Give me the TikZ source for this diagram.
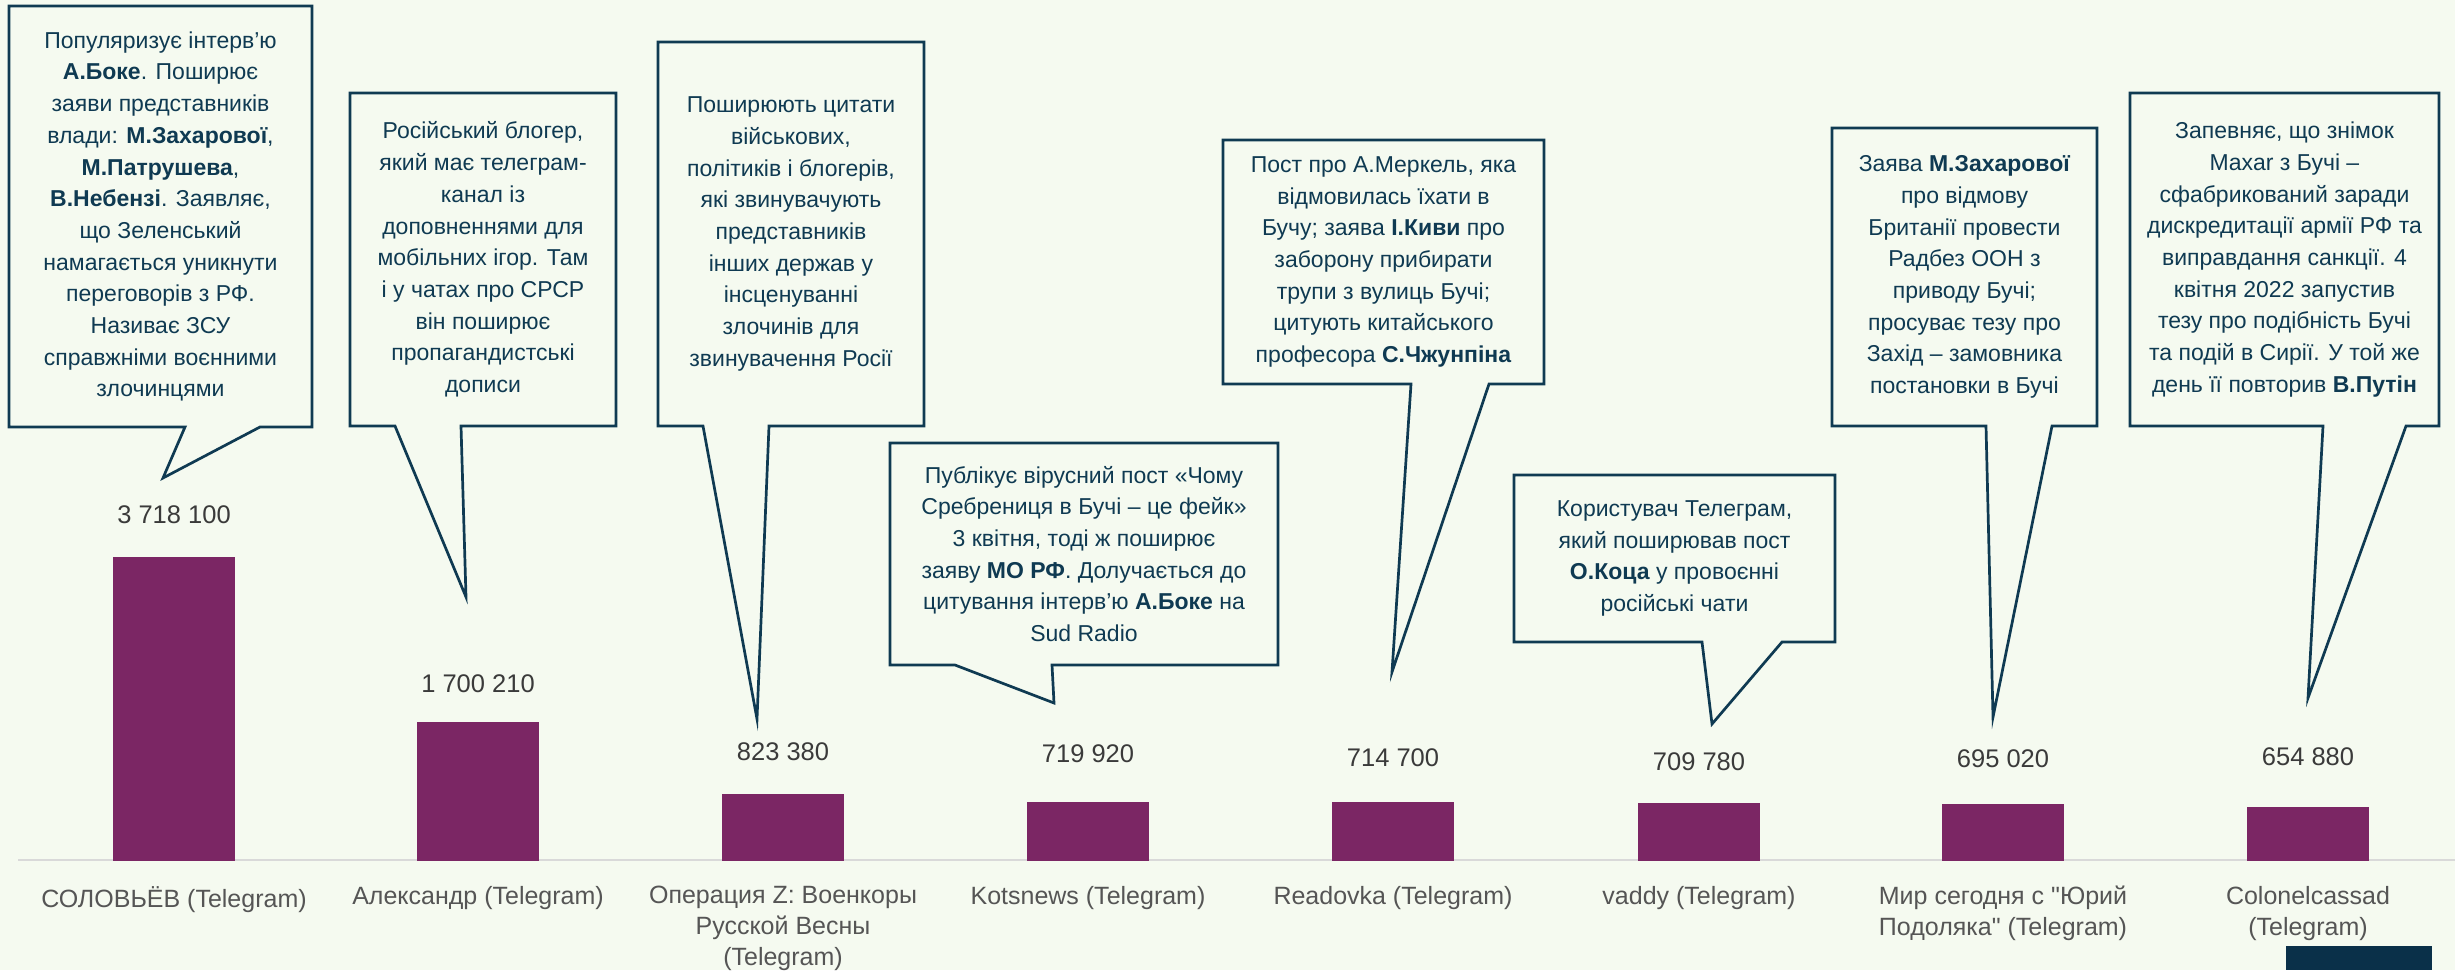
\documentclass[tikz,border=0pt]{standalone}
\usepackage{fontspec}
\setmainfont{Liberation Sans}
\newfontfamily\catfont{Liberation Sans}[Ligatures=TeXOff]
\definecolor{bg}{HTML}{F5FAF0}
\definecolor{navy}{HTML}{0F3A52}
\definecolor{barc}{HTML}{7B2664}
\definecolor{numc}{HTML}{3A3A3A}
\definecolor{catc}{HTML}{555555}
\definecolor{axisc}{HTML}{D9D9D9}
\definecolor{cornerc}{HTML}{0A3049}
\tikzset{
  cbox/.style={draw=navy, line width=2.7pt, fill=bg, line join=miter},
  ctext/.style={text=navy, align=center, font=\fontsize{23}{31.7}\selectfont, inner sep=0pt},
  barbox/.style={fill=barc, draw=none, minimum width=122pt, inner sep=0pt, anchor=south},
  numlbl/.style={text=numc, font=\fontsize{25.5}{30}\selectfont, inner sep=0pt},
  catlbl/.style={text=catc, font=\catfont\fontsize{25}{31}\selectfont, align=center, inner sep=0pt, anchor=north},
}
\newcommand\mycallout[9]{%
  \coordinate (#1-tip) at #8;
  \draw[cbox] (#2,#3) -- (#4,#3) -- (#4,#5) -- (#7,#5) -- (#1-tip) -- (#6,#5) -- (#2,#5) -- cycle;
  \node[ctext] (#1) at ({(#2+#4)/2},{(#3+#5)/2}) {#9};
}
\begin{document}
\begin{tikzpicture}[x=1pt,y=-1pt]
\useasboundingbox (0,0) rectangle (2455,970);
\fill[bg] (0,0) rectangle (2455,970);
% axis
\draw[axisc, line width=2.5pt] (18,860) -- (2455,860);
% bars
\node[barbox, minimum height=304pt]  (b1) at (174,861) {};
\node[barbox, minimum height=139pt]  (b2) at (478,861) {};
\node[barbox, minimum height=67.3pt] (b3) at (783,861) {};
\node[barbox, minimum height=58.9pt] (b4) at (1088,861) {};
\node[barbox, minimum height=58.4pt] (b5) at (1393,861) {};
\node[barbox, minimum height=58pt]   (b6) at (1699,861) {};
\node[barbox, minimum height=56.8pt] (b7) at (2003,861) {};
\node[barbox, minimum height=53.5pt] (b8) at (2308,861) {};
% values
\node[numlbl] (v1) at ([yshift=42pt]b1.north) {3 718 100};
\node[numlbl] (v2) at ([yshift=38pt]b2.north) {1 700 210};
\node[numlbl] (v3) at ([yshift=42pt]b3.north) {823 380};
\node[numlbl] (v4) at ([yshift=48pt]b4.north) {719 920};
\node[numlbl] (v5) at ([yshift=44pt]b5.north) {714 700};
\node[numlbl] (v6) at ([yshift=41pt]b6.north) {709 780};
\node[numlbl] (v7) at ([yshift=45pt]b7.north) {695 020};
\node[numlbl] (v8) at ([yshift=50pt]b8.north) {654 880};
% categories
\node[catlbl] (c1) at (174,886) {СОЛОВЬЁВ (Telegram)};
\node[catlbl] (c2) at (478,886) {Александр (Telegram)};
\node[catlbl] (c3) at (783,886) {Операция Z: Военкоры\\Русской Весны\\(Telegram)};
\node[catlbl] (c4) at (1088,886) {Kotsnews (Telegram)};
\node[catlbl] (c5) at (1393,886) {Readovka (Telegram)};
\node[catlbl] (c6) at (1699,886) {vaddy (Telegram)};
\node[catlbl] (c7) at (2003,886) {Мир сегодня с "Юрий\\Подоляка" (Telegram)};
\node[catlbl] (c8) at (2308,886) {Colonelcassad\\(Telegram)};
% corner block
\fill[cornerc] (2286,946) rectangle (2432,970);
% callouts
\mycallout{k1}{9}{6}{312}{427}{185}{260}{(163,478)}{Популяризує інтерв’ю\\\textbf{А.Боке}. Поширює\\заяви представників\\влади: \textbf{М.Захарової},\\\textbf{М.Патрушева},\\\textbf{В.Небензі}. Заявляє,\\що Зеленський\\намагається уникнути\\переговорів з РФ.\\Називає ЗСУ\\справжніми воєнними\\злочинцями}
\mycallout{k2}{350}{93}{616}{426}{395}{461}{(466,597)}{Російський блогер,\\який має телеграм-\\канал із\\доповненнями для\\мобільних ігор. Там\\і у чатах про СРСР\\він поширює\\пропагандистські\\дописи}
\mycallout{k3}{658}{42}{924}{426}{703}{769}{(757,719)}{Поширюють цитати\\військових,\\політиків і блогерів,\\які звинувачують\\представників\\інших держав у\\інсценуванні\\злочинів для\\звинувачення Росії}
\mycallout{k4}{890}{443}{1278}{665}{955}{1052}{(1054,703)}{Публікує вірусний пост «Чому\\Сребрениця в Бучі – це фейк»\\3 квітня, тоді ж поширює\\заяву \textbf{МО РФ}. Долучається до\\цитування інтерв’ю \textbf{А.Боке} на\\Sud Radio}
\mycallout{k5}{1223}{140}{1544}{384}{1411}{1489}{(1392,672)}{Пост про А.Меркель, яка\\відмовилась їхати в\\Бучу; заява \textbf{І.Киви} про\\заборону прибирати\\трупи з вулиць Бучі;\\цитують китайського\\професора \textbf{С.Чжунпіна}}
\mycallout{k6}{1514}{475}{1835}{642}{1702}{1782}{(1712,724)}{Користувач Телеграм,\\який поширював пост\\\textbf{О.Коца} у провоєнні\\російські чати}
\mycallout{k7}{1832}{128}{2097}{426}{1986}{2052}{(1993,717)}{Заява \textbf{М.Захарової}\\про відмову\\Британії провести\\Радбез ООН з\\приводу Бучі;\\просуває тезу про\\Захід – замовника\\постановки в Бучі}
\mycallout{k8}{2130}{93}{2439}{426}{2323}{2406}{(2308,698)}{Запевняє, що знімок\\Maxar з Бучі –\\сфабрикований заради\\дискредитації армії РФ та\\виправдання санкції. 4\\квітня 2022 запустив\\тезу про подібність Бучі\\та подій в Сирії. У той же\\день її повторив \textbf{В.Путін}}
\end{tikzpicture}
\end{document}
